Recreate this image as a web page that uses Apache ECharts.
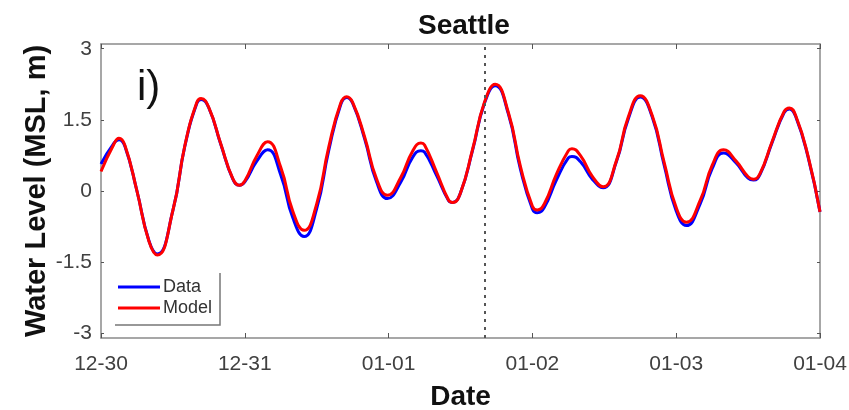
<!DOCTYPE html>
<html>
<head>
<meta charset="utf-8">
<script src="https://cdn.jsdelivr.net/npm/echarts@6/dist/echarts.min.js"></script>
<style>
  html, body { margin: 0; padding: 0; background: #fff; }
  #chart { width: 849px; height: 410px; }
</style>
</head>
<body>
<div id="chart"></div>
<script>
// Hours since 12-30 00:00 (local)
const hours = [0, 2, 3, 4, 6, 8, 9.4, 12, 14, 16, 16.7, 18, 20, 22, 23.1, 24, 26, 27.8, 30, 32, 33.9,
  36, 38, 40, 41, 42, 44, 46, 47.8, 50, 52, 53.4, 54, 56, 58, 58.7, 60, 62, 64, 65.8, 68, 70, 72,
  72.8, 74, 76, 78, 78.6, 80, 82, 83.8, 86, 88, 90, 92, 94, 96, 97.7, 100, 102, 103.9, 106, 108,
  108.9, 110, 112, 114, 114.9, 116, 118, 120];

// Observed water level (m, MSL)
const dataLevel = [0.57, 0.98, 1.08, 0.94, 0.00, -1.05, -1.33, -0.41, 0.95, 1.85, 1.93, 1.75, 0.98, 0.25, 0.12, 0.19, 0.63, 0.87, 0.34, -0.56, -0.96,
  -0.37, 0.85, 1.82, 1.97, 1.85, 1.10, 0.19, -0.16, 0.18, 0.71, 0.85, 0.82, 0.33, -0.20, -0.24, -0.04, 0.85, 1.85, 2.22, 1.62, 0.46, -0.38,
  -0.46, -0.34, 0.23, 0.70, 0.73, 0.62, 0.25, 0.07, 0.61, 1.52, 1.98, 1.56, 0.54, -0.42, -0.73, -0.27, 0.47, 0.80, 0.59, 0.27,
  0.23, 0.35, 1.02, 1.65, 1.73, 1.55, 0.72, -0.44];

// Modelled water level (m, MSL)
const modelLevel = [0.41, 0.95, 1.11, 0.96, 0.00, -1.06, -1.35, -0.41, 0.96, 1.87, 1.95, 1.76, 0.99, 0.26, 0.12, 0.21, 0.74, 1.04, 0.50, -0.42, -0.83,
  -0.27, 0.92, 1.85, 1.99, 1.87, 1.14, 0.25, -0.09, 0.28, 0.84, 1.01, 0.97, 0.40, -0.19, -0.24, -0.04, 0.87, 1.87, 2.25, 1.65, 0.52, -0.32,
  -0.40, -0.27, 0.35, 0.85, 0.89, 0.75, 0.31, 0.09, 0.63, 1.56, 2.01, 1.59, 0.60, -0.35, -0.66, -0.20, 0.54, 0.87, 0.63, 0.30,
  0.25, 0.37, 1.04, 1.67, 1.75, 1.57, 0.74, -0.44];

const dayLabels = ['12-30', '12-31', '01-01', '01-02', '01-03', '01-04'];
const levelTicks = [-3, -1.5, 0, 1.5, 3];
const levelRange = [-3.1, 3.1];
const forecastStartHour = 64;

const pairs = (vals) => hours.map((h, i) => [h, vals[i]]);
const axisGray = '#8a8a8a';
const labelColor = '#404040';
const font = '"Liberation Sans", Arial, sans-serif';

const chart = echarts.init(document.getElementById('chart'), null, { renderer: 'canvas' });

const baseX = {
  type: 'value', min: 0, max: 120, interval: 24,
  splitLine: { show: false },
  axisLine: { show: true, onZero: false, lineStyle: { color: axisGray, width: 1.5 } },
  axisTick: { show: true, inside: true, length: 5, lineStyle: { color: '#555', width: 1 } }
};
const baseY = {
  type: 'value', min: levelRange[0], max: levelRange[1],
  splitLine: { show: false },
  axisLine: { show: true, onZero: false, lineStyle: { color: axisGray, width: 1.5 } },
  axisTick: { show: true, inside: true, length: 3, customValues: levelTicks,
    lineStyle: { color: '#555', width: 1 } }
};

chart.setOption({
  animation: false,
  backgroundColor: '#fff',
  title: {
    text: 'Seattle', left: 413, top: 7,
    textStyle: { fontFamily: font, fontSize: 28, fontWeight: 'bold', color: '#111' }
  },
  grid: { left: 101, right: 29, top: 44, bottom: 72, outerBoundsMode: 'none', containLabel: false },
  xAxis: [
    Object.assign({}, baseX, {
      position: 'bottom',
      name: 'Date', nameLocation: 'middle', nameGap: 45,
      nameTextStyle: { fontFamily: font, fontSize: 28, fontWeight: 'bold', color: '#111' },
      axisLabel: {
        fontFamily: font, fontSize: 21, color: labelColor, margin: 16,
        formatter: (v) => dayLabels[Math.round(v / 24)]
      }
    }),
    Object.assign({}, baseX, { position: 'top', axisLabel: { show: false } })
  ],
  yAxis: [
    Object.assign({}, baseY, {
      position: 'left',
      name: 'Water Level (MSL, m)', nameLocation: 'middle', nameGap: 50, nameMoveOverlap: false,
      nameTextStyle: { fontFamily: font, fontSize: 29, fontWeight: 'bold', color: '#111' },
      axisLabel: { fontFamily: font, fontSize: 21, color: labelColor, margin: 9,
        customValues: levelTicks, formatter: (v) => String(v) }
    }),
    Object.assign({}, baseY, { position: 'right', axisLabel: { show: false } })
  ],
  legend: {
    orient: 'vertical', left: 118, top: 278, padding: 0,
    icon: 'rect', itemWidth: 42, itemHeight: 3, itemGap: 3,
    textStyle: { fontFamily: font, fontSize: 18, lineHeight: 18, color: '#333', padding: [0, 0, 0, -2] },
    data: ['Data', 'Model']
  },
  graphic: [
    { type: 'polyline', silent: true, z: 10,
      shape: { points: [[220, 273], [220, 325], [115, 325]] },
      style: { stroke: '#777', lineWidth: 1.5, fill: null } },
    { type: 'text', left: 137, top: 67, z: 10,
      style: { text: 'i)', fontFamily: font, fontSize: 42, fill: '#111' } }
  ],
  series: [
    {
      name: 'Data', type: 'line', data: pairs(dataLevel),
      showSymbol: false, smooth: 0.5,
      lineStyle: { color: '#0000ff', width: 3 }, itemStyle: { color: '#0000ff' },
      z: 3
    },
    {
      name: 'Model', type: 'line', data: pairs(modelLevel),
      showSymbol: false, smooth: 0.5,
      lineStyle: { color: '#ff0000', width: 3 }, itemStyle: { color: '#ff0000' },
      z: 4,
      markLine: {
        silent: true, symbol: 'none', label: { show: false },
        lineStyle: { type: [3, 5], color: '#555', width: 2 },
        data: [{ xAxis: forecastStartHour }]
      }
    }
  ]
});
</script>
</body>
</html>
